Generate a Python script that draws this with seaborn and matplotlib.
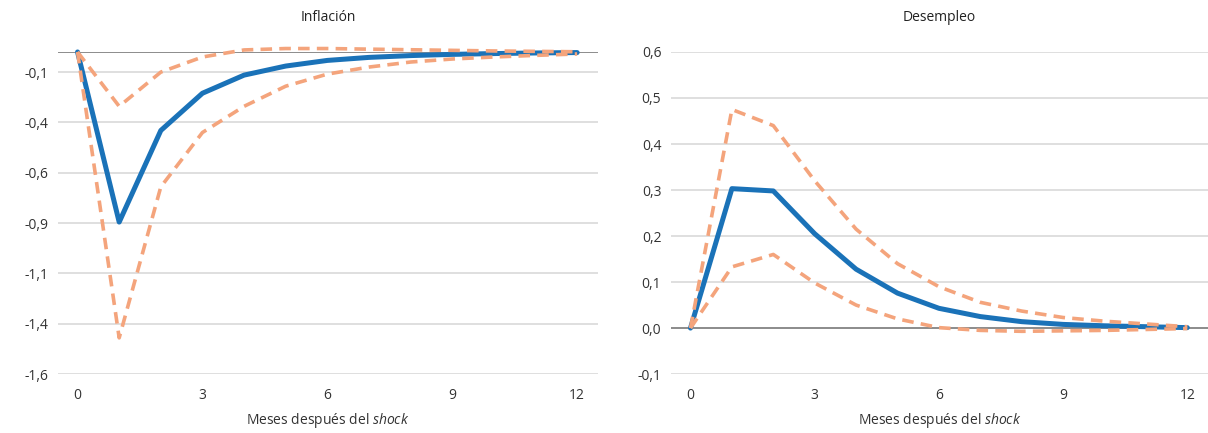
import matplotlib
matplotlib.use('Agg')
import matplotlib.pyplot as plt
import seaborn as sns
import pandas as pd

# meses despues del shock
meses = list(range(13))

# Inflacion: respuesta central y bandas
infl_central = [0, -0.845, -0.39, -0.205, -0.115, -0.07, -0.042, -0.027, -0.018, -0.012, -0.008, -0.005, -0.003]
infl_inf = [0, -1.42, -0.67, -0.40, -0.27, -0.17, -0.11, -0.075, -0.05, -0.035, -0.025, -0.017, -0.01]
infl_sup = [0, -0.27, -0.10, -0.025, 0.01, 0.017, 0.017, 0.014, 0.011, 0.008, 0.005, 0.003, 0.001]

# Desempleo: respuesta central y bandas
des_central = [0, 0.303, 0.298, 0.205, 0.128, 0.076, 0.043, 0.025, 0.014, 0.008, 0.005, 0.003, 0.001]
des_sup = [0, 0.475, 0.44, 0.32, 0.215, 0.14, 0.09, 0.056, 0.037, 0.023, 0.015, 0.009, 0.003]
des_inf = [0, 0.133, 0.16, 0.098, 0.05, 0.02, 0.001, -0.005, -0.007, -0.006, -0.005, -0.003, -0.001]

infl_yticks = [-0.1, -0.35, -0.6, -0.85, -1.1, -1.35, -1.6]
des_yticks = [-0.1, 0.0, 0.1, 0.2, 0.3, 0.4, 0.5, 0.6]
xticks = [0, 3, 6, 9, 12]

sns.set_style('white')
plt.rcParams['font.family'] = ['Open Sans', 'DejaVu Sans']
plt.rcParams['mathtext.fontset'] = 'custom'
plt.rcParams['mathtext.it'] = 'Open Sans:italic'
plt.rcParams['mathtext.rm'] = 'Open Sans'

azul = '#1a72b8'
naranja = '#f4a47c'
gris_grid = '#d9d9d9'


def etiqueta(v):
    # redondeo tipo Excel (mitad lejos de cero), coma decimal
    s = '-' if v < -1e-9 else ''
    txt = '%.1f' % (abs(v) + 1e-9)
    return s + txt.replace('.', ',')


fig = plt.figure(figsize=(12.08, 4.33), dpi=100)
ax1 = fig.add_axes([0.048, 0.136, 0.447, 0.744])
ax2 = fig.add_axes([0.5555, 0.136, 0.4445, 0.744])

paneles = [
    (ax1, 'Inflación', infl_central, infl_inf, infl_sup, infl_yticks, (-1.6, 0.0)),
    (ax2, 'Desempleo', des_central, des_inf, des_sup, des_yticks, (-0.1, 0.6)),
]

for ax, titulo, central, inf, sup, yt, ylim in paneles:
    df = pd.DataFrame({'mes': meses, 'central': central, 'inf': inf, 'sup': sup})
    ax.set_yticks(yt)
    ax.set_yticklabels([etiqueta(v) for v in yt])
    ax.grid(axis='y', color=gris_grid, lw=1.2)
    ax.set_axisbelow(True)
    ax.axhline(0, color='#8c8c8c', lw=1.4, zorder=1)

    sns.lineplot(data=df, x='mes', y='central', ax=ax, color=azul, lw=3.6,
                 zorder=3, clip_on=False)
    for col in ['inf', 'sup']:
        sns.lineplot(data=df, x='mes', y=col, ax=ax, color=naranja, lw=2.6,
                     linestyle=(0, (3.2, 2.0)), zorder=4, clip_on=False)

    ax.set_ylim(*ylim)
    ax.set_xlim(-0.47, 12.5)
    ax.set_xticks(xticks)
    ax.set_xticklabels([str(x) for x in xticks])
    ax.tick_params(axis='both', length=0, labelsize=10, colors='#333333')
    ax.tick_params(axis='x', pad=10)
    ax.tick_params(axis='y', pad=7)
    ax.set_xlabel(r'Meses después del $\it{shock}$', fontsize=10, color='#333333', labelpad=6)
    ax.set_ylabel('')
    ax.set_title(titulo, fontsize=10, color='#222222', pad=22)
    sns.despine(ax=ax, left=True, bottom=True)

fig.savefig('out.png', dpi=100)
